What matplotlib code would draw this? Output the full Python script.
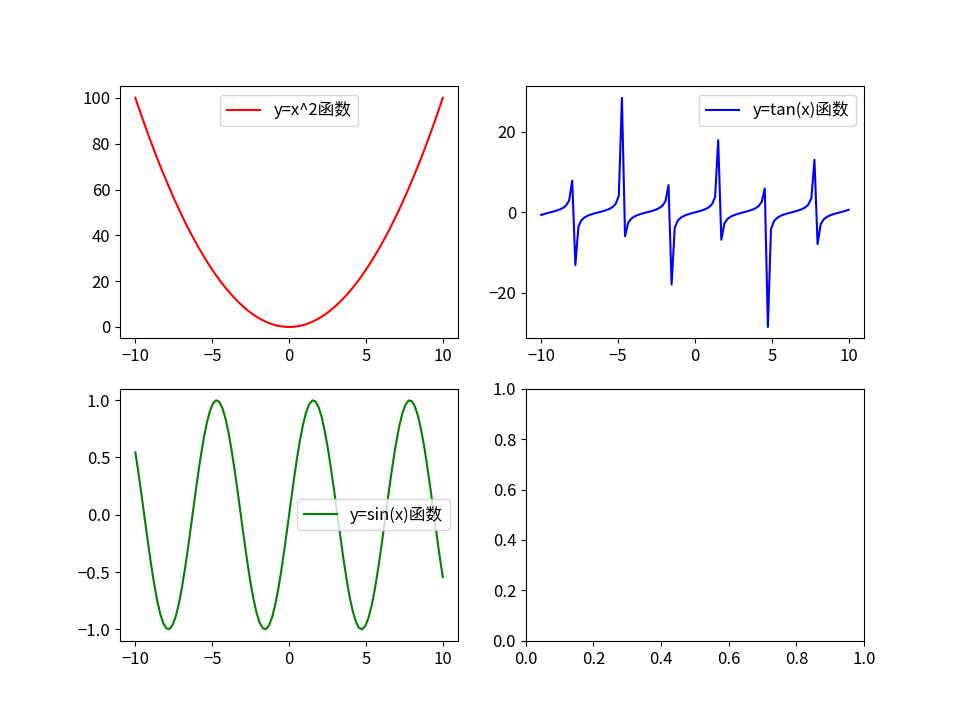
import numpy as np
import matplotlib
matplotlib.use("Agg")
from matplotlib import pyplot as plt
from matplotlib.ticker import MaxNLocator

plt.rcParams['font.family'] = ['Noto Sans CJK SC', 'DejaVu Sans']
plt.rcParams['font.size'] = 12

# sample grid and the three functions named in the legends
x = np.linspace(-10, 10, 100)
ySquare = x ** 2
yTan = np.tan(x)
ySin = np.sin(x)

labels = ['y=x^2函数', 'y=tan(x)函数', 'y=sin(x)函数']
colors = ['red', 'blue', 'green']

fig, axes = plt.subplots(2, 2, figsize=(9.6, 7.2), dpi=100)

axes[0, 0].plot(x, ySquare, color=colors[0], label=labels[0])
axes[0, 0].legend(loc='upper center')

axes[0, 1].plot(x, yTan, color=colors[1], label=labels[1])
axes[0, 1].legend(loc='upper right')

axes[1, 0].plot(x, ySin, color=colors[2], label=labels[2])
axes[1, 0].legend(loc='center right')

# the original had sparser y ticks
for ax in axes.flat:
    ax.yaxis.set_major_locator(MaxNLocator(nbins=6, steps=[1, 2, 2.5, 5, 10]))

plt.savefig('out.png')
